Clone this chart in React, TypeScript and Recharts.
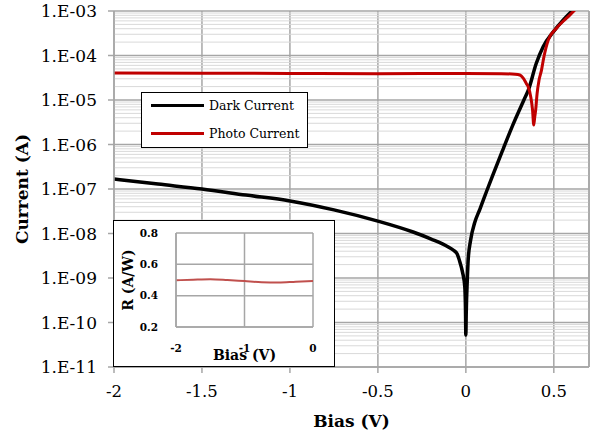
import React from "react";
import {
  LineChart,
  Line,
  XAxis,
  YAxis,
  CartesianGrid,
  ReferenceLine,
  Label,
} from "recharts";

// ---- Data ----
const darkBias = [
  -2.0, -1.75, -1.5, -1.25, -1.0, -0.75, -0.5, -0.3, -0.2, -0.1, -0.07, -0.05, -0.034, -0.019,
  -0.006, -0.002, 0.0, 0.002, 0.004, 0.0075, 0.013, 0.027, 0.05, 0.08, 0.1, 0.118, 0.15,
  0.212, 0.268, 0.33, 0.355, 0.4, 0.44, 0.497, 0.554, 0.61, 0.65,
];
const darkCurrent = [
  1.68e-7, 1.29e-7, 1.0e-7, 7.3e-8, 5.4e-8, 3.4e-8, 1.9e-8, 1.08e-8, 7.6e-9, 5.0e-9, 4.2e-9,
  3.5e-9, 2.3e-9, 1.36e-9, 6.3e-10, 1.9e-10, 5.2e-11, 1.5e-10, 3.2e-10, 7.7e-10, 2.5e-9, 7.1e-9,
  1.74e-8, 3.55e-8, 5.75e-8, 8.9e-8, 1.9e-7, 7.9e-7, 2.8e-6, 1.0e-5, 1.66e-5, 6.6e-5, 1.6e-4,
  3.4e-4, 6.3e-4, 1.05e-3, 1.4e-3,
];

const photoBias = [
  -2.0, -1.5, -1.0, -0.5, 0.0, 0.2, 0.28, 0.307, 0.326, 0.345, 0.354, 0.369, 0.379, 0.386,
  0.391, 0.397, 0.405, 0.416, 0.43, 0.443, 0.468, 0.515, 0.572, 0.62, 0.65,
];
const photoCurrent = [
  4.05e-5, 4.0e-5, 3.95e-5, 3.9e-5, 3.95e-5, 3.9e-5, 3.8e-5, 3.65e-5, 3.1e-5, 2.3e-5, 2.0e-5,
  1.17e-5, 6.0e-6, 2.75e-6, 4.0e-6, 6.0e-6, 1.4e-5, 2.8e-5, 4.7e-5, 9.0e-5, 2.2e-4, 4.1e-4,
  6.9e-4, 1.05e-3, 1.4e-3,
];

const respBias = [-2.0, -1.75, -1.5, -1.25, -1.0, -0.75, -0.5, -0.25, 0.0];
const responsivity = [0.498, 0.502, 0.505, 0.5, 0.493, 0.486, 0.484, 0.489, 0.493];

const xTicks = [-2, -1.5, -1, -0.5, 0, 0.5];
const yTicks = [1e-11, 1e-10, 1e-9, 1e-8, 1e-7, 1e-6, 1e-5, 1e-4, 1e-3];
const insetXTicks = [-2, -1, 0];
const insetYTicks = [0.2, 0.4, 0.6, 0.8];
const legendNames = ["Dark Current", "Photo Current"];
const seriesColors = ["#000000", "#c00000"];

const minorGrid: number[] = [];
for (let d = -11; d < -3; d++) {
  for (let m = 2; m <= 9; m++) minorGrid.push(m * Math.pow(10, d));
}

const darkData = darkBias.map((x, i) => ({ x, y: darkCurrent[i] }));
const photoData = photoBias.map((x, i) => ({ x, y: photoCurrent[i] }));
const respData = respBias.map((x, i) => ({ x, r: responsivity[i] }));

const FONT = "'DejaVu Serif', serif";

const fmtExp = (v: number) => {
  const e = Math.round(Math.log10(v));
  const s = Math.abs(e).toString().padStart(2, "0");
  return `1.E${e < 0 ? "-" : "+"}${s}`;
};

const LegendBox = () => (
  <div
    style={{
      position: "absolute",
      left: 141,
      top: 92,
      width: 167,
      height: 56,
      border: "1.5px solid #000",
      boxSizing: "border-box",
      background: "#fff",
      fontFamily: FONT,
      fontSize: 12.5,
    }}
  >
    {legendNames.map((name, i) => (
      <div
        key={name}
        style={{
          position: "absolute",
          left: 9,
          top: (i === 0 ? 12 : 40) - 8,
          display: "flex",
          alignItems: "center",
          height: 16,
        }}
      >
        <div style={{ width: 53, height: 3, background: seriesColors[i], marginRight: 5 }} />
        <span style={{ color: "#000", whiteSpace: "nowrap" }}>{name}</span>
      </div>
    ))}
  </div>
);

export default function App() {
  return (
    <div style={{ position: "absolute", left: 0, top: 0, width: 593, height: 437, background: "#fff" }}>
      <LineChart
        width={593}
        height={437}
        margin={{ top: 11, right: 4, bottom: 0, left: 0 }}
        style={{ fontFamily: FONT }}
      >
        <CartesianGrid stroke="#a6a6a6" strokeWidth={1.5} />
        {minorGrid.map((v) => (
          <ReferenceLine key={v} y={v} stroke="#d9d9d9" strokeWidth={1} ifOverflow="hidden" />
        ))}
        <ReferenceLine x={0.7} stroke="#a6a6a6" strokeWidth={1.5} />
        <XAxis
          dataKey="x"
          type="number"
          domain={[-2, 0.7]}
          ticks={xTicks}
          allowDataOverflow
          height={70}
          stroke="#a6a6a6"
          strokeWidth={1.5}
          tickSize={6}
          tickMargin={12}
          tick={{ fill: "#000", fontSize: 16.5, fontFamily: FONT }}
        >
          <Label
            value="Bias (V)"
            position="insideBottom"
            offset={10}
            style={{ fill: "#000", fontSize: 17, fontWeight: "bold", fontFamily: FONT }}
          />
        </XAxis>
        <YAxis
          dataKey="y"
          type="number"
          scale="log"
          domain={[1e-11, 1e-3]}
          ticks={yTicks}
          allowDataOverflow
          width={114}
          stroke="#a6a6a6"
          strokeWidth={1.5}
          tickSize={6}
          tickMargin={11}
          tickFormatter={fmtExp}
          tick={{ fill: "#000", fontSize: 17, fontFamily: FONT }}
        >
          <Label
            value="Current (A)"
            angle={-90}
            position="insideLeft"
            offset={22}
            style={{ fill: "#000", fontSize: 17, fontWeight: "bold", fontFamily: FONT, textAnchor: "middle" }}
          />
        </YAxis>
        <Line
          data={darkData}
          dataKey="y"
          type="monotone"
          stroke={seriesColors[0]}
          strokeWidth={3.5}
          dot={false}
          isAnimationActive={false}
          name={legendNames[0]}
        />
        <Line
          data={photoData}
          dataKey="y"
          type="monotone"
          stroke={seriesColors[1]}
          strokeWidth={3}
          dot={false}
          isAnimationActive={false}
          name={legendNames[1]}
        />
      </LineChart>

      <LegendBox />

      <div
        style={{
          position: "absolute",
          left: 113,
          top: 220,
          width: 222,
          height: 147,
          background: "#fff",
          border: "1px solid #000",
          boxSizing: "border-box",
        }}
      >
        <LineChart
          width={220}
          height={145}
          data={respData}
          margin={{ top: 12, right: 21, bottom: 0, left: 0 }}
          style={{ fontFamily: FONT }}
        >
          <CartesianGrid stroke="#a6a6a6" strokeWidth={1.5} />
          <XAxis
            dataKey="x"
            type="number"
            domain={[-2, 0]}
            ticks={insetXTicks}
            height={39}
            stroke="#a6a6a6"
            strokeWidth={1.5}
            tickLine={false}
            tickMargin={12}
            tick={{ fill: "#000", fontSize: 10.5, fontWeight: "bold", fontFamily: FONT }}
          >
            <Label
              value="Bias (V)"
              position="insideBottom"
              offset={6}
              style={{ fill: "#000", fontSize: 14, fontWeight: "bold", fontFamily: FONT }}
            />
          </XAxis>
          <YAxis
            type="number"
            domain={[0.2, 0.8]}
            ticks={insetYTicks}
            width={62}
            stroke="#a6a6a6"
            strokeWidth={1.5}
            tickLine={false}
            tickMargin={12}
            tickFormatter={(v: number) => v.toFixed(1)}
            tick={{ fill: "#000", fontSize: 10.5, fontWeight: "bold", fontFamily: FONT }}
          >
            <Label
              value="R (A/W)"
              angle={-90}
              position="insideLeft"
              offset={14}
              style={{ fill: "#000", fontSize: 14, fontWeight: "bold", fontFamily: FONT, textAnchor: "middle" }}
            />
          </YAxis>
          <Line
            dataKey="r"
            type="monotone"
            stroke="#c0504d"
            strokeWidth={2}
            dot={false}
            isAnimationActive={false}
          />
        </LineChart>
      </div>
    </div>
  );
}
